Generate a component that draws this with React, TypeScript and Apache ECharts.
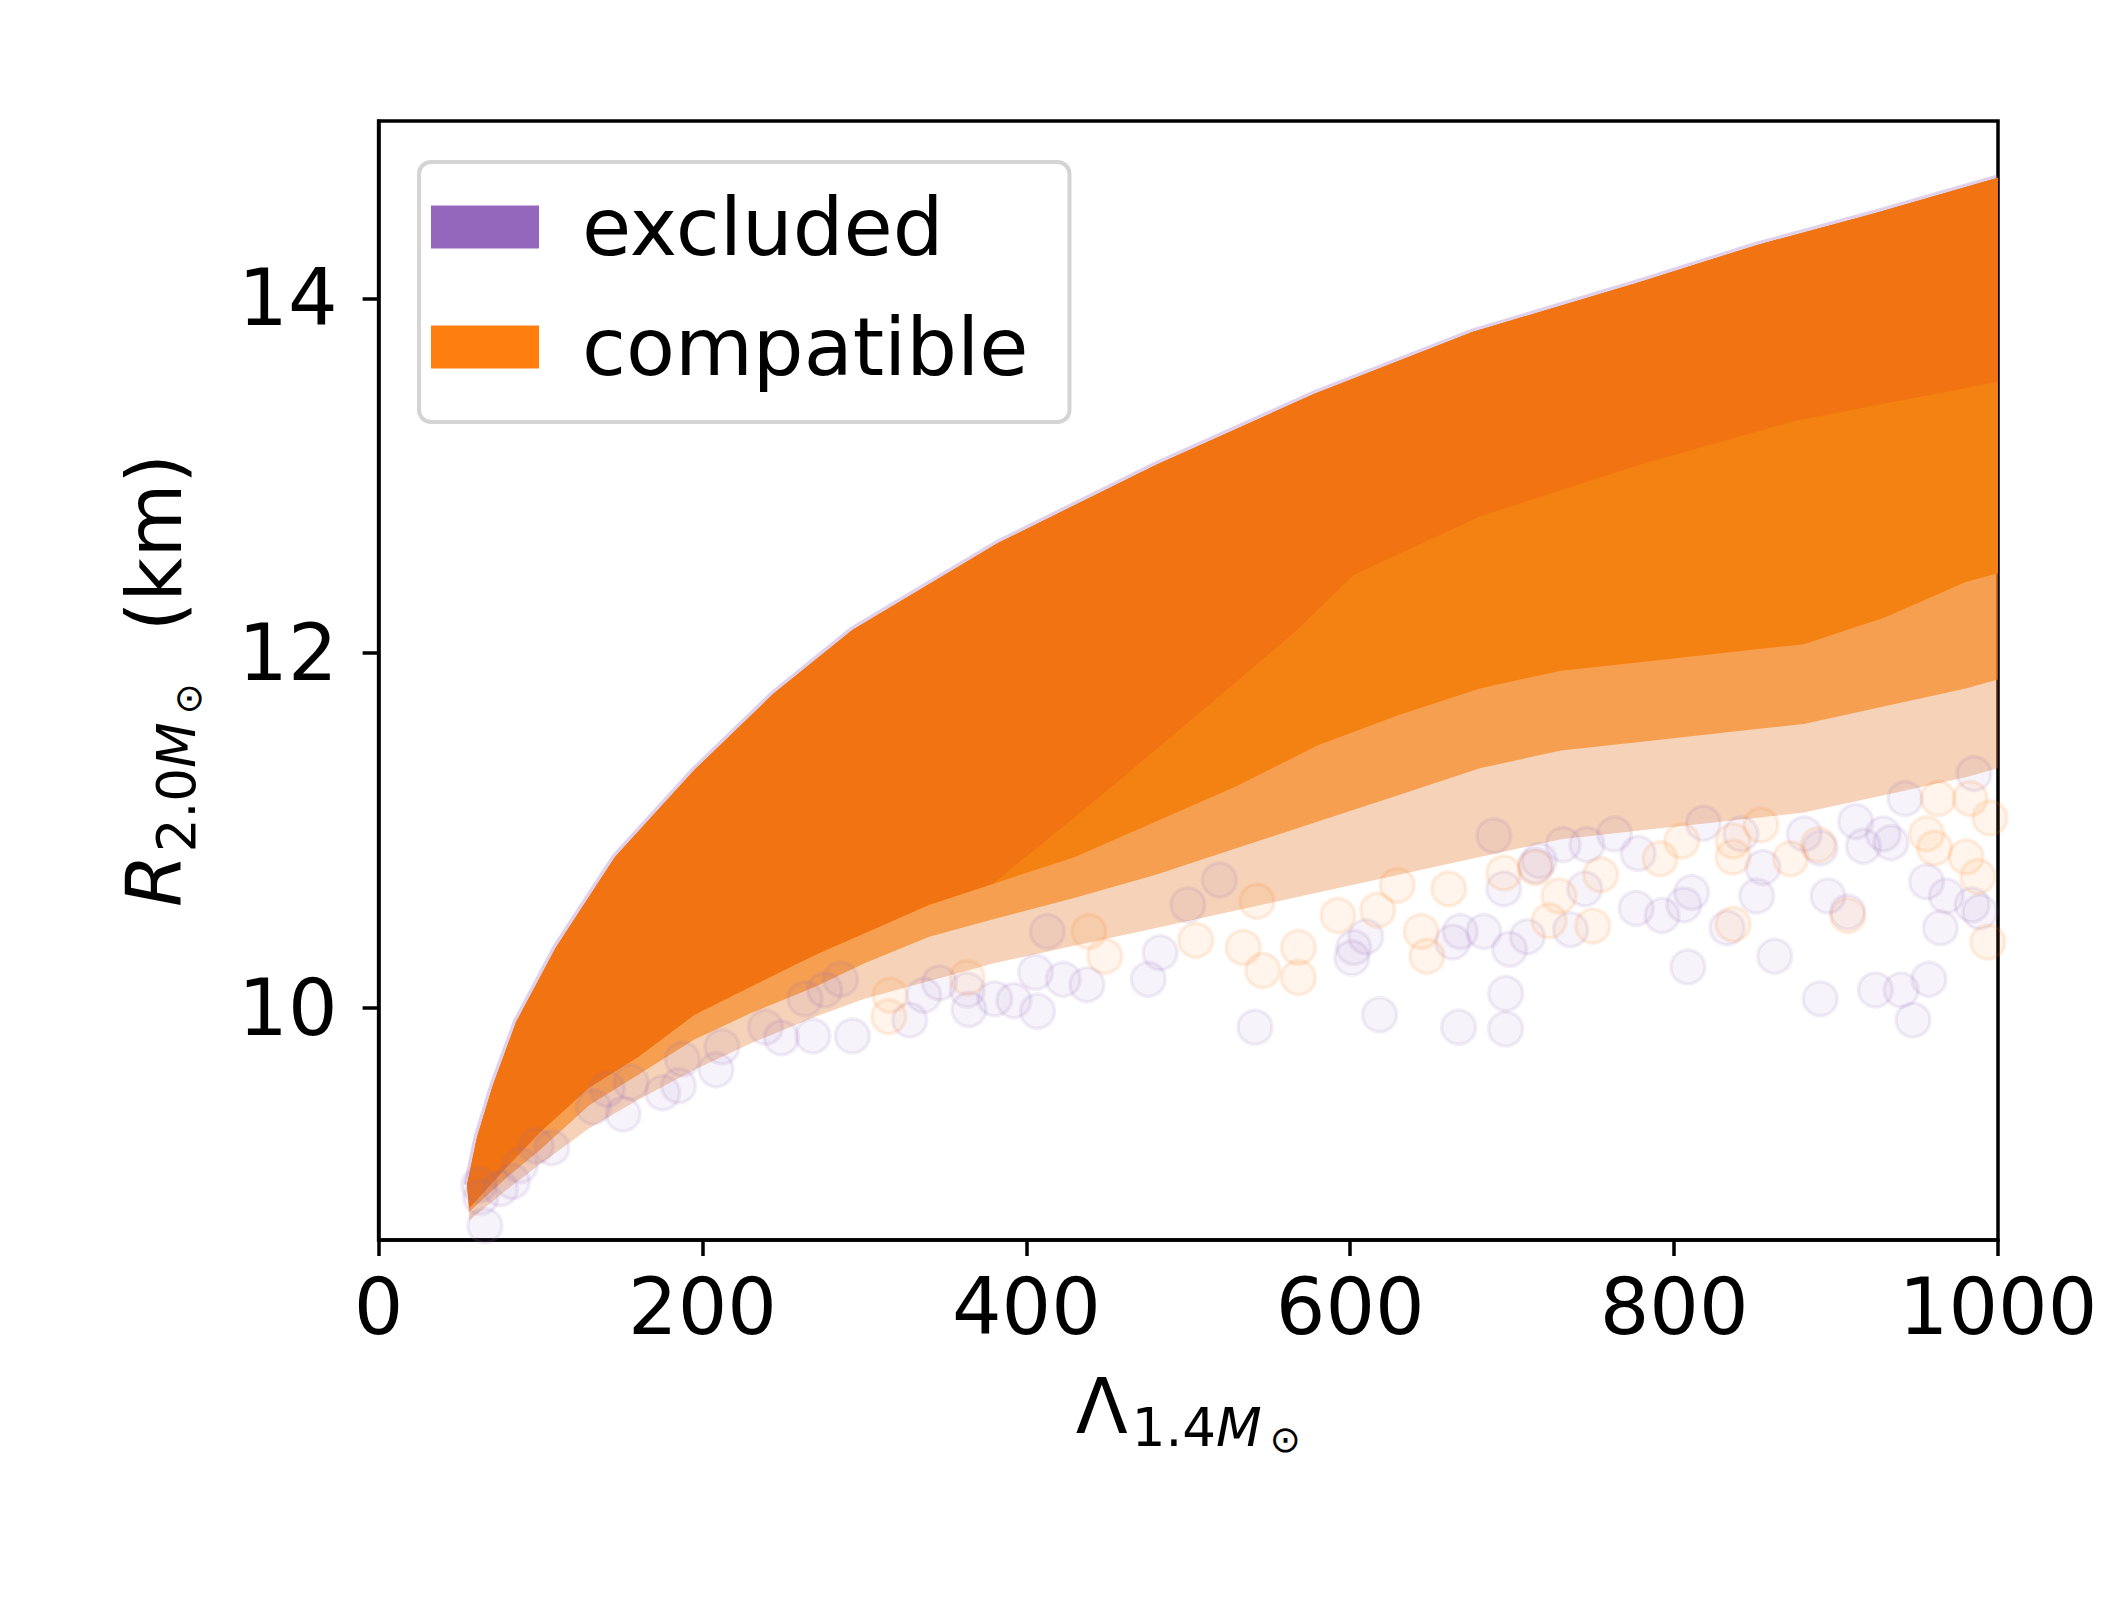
import React, { useEffect, useRef } from "react";
import * as echarts from "echarts";

// Axis ticks
const xTickValues = [0, 200, 400, 600, 800, 1000];
const yTickValues = [10, 12, 14];
const xRange = [0, 1000];
const yRange = [8.69, 15.0];

// Upper envelope of the dense cloud (Lambda_1.4, R_2.0)
const upperLambda = [54.6, 60.8, 70.5, 85, 109.5, 146, 195, 243.8, 292.6, 382.5, 480, 577.6, 675.5, 778, 851, 924, 1000];
const upperR = [9.0, 9.27, 9.56, 9.92, 10.34, 10.85, 11.34, 11.77, 12.13, 12.62, 13.06, 13.46, 13.81, 14.09, 14.3, 14.48, 14.68];

// Lower edge of the darkest core (right to left)
const coreLowerLambda = [1000, 875, 778, 680, 602, 566, 517, 444, 382];
const coreLowerR = [13.53, 13.31, 13.06, 12.77, 12.44, 12.12, 11.74, 11.18, 10.72];

// Lower edges of the solid cloud and of its hazy fringe
const edgeLambda = [56, 80, 100, 130, 160, 195, 230, 270, 300, 340, 380, 430, 480, 530, 580, 630, 680, 730, 780, 830, 880, 930, 980, 1000];
const solidLowerR = [8.87, 9.11, 9.3, 9.55, 9.72, 9.96, 10.12, 10.3, 10.42, 10.58, 10.7, 10.85, 11.05, 11.25, 11.48, 11.65, 11.8, 11.9, 11.95, 12.0, 12.05, 12.2, 12.4, 12.45];
const hazeMidR = [8.85, 9.05, 9.2, 9.45, 9.62, 9.82, 9.97, 10.12, 10.25, 10.4, 10.5, 10.62, 10.75, 10.9, 11.05, 11.2, 11.35, 11.45, 11.5, 11.55, 11.6, 11.7, 11.8, 11.85];
const hazeLowR = [8.8, 8.98, 9.12, 9.32, 9.48, 9.65, 9.8, 9.95, 10.05, 10.15, 10.25, 10.35, 10.45, 10.55, 10.65, 10.75, 10.85, 10.95, 11.0, 11.05, 11.1, 11.2, 11.3, 11.35];

// Sparse individual samples
const excludedPoints = [
  [364.6, 9.99], [363.5, 10.1], [328, 9.93], [336.6, 10.07], [292.6, 9.84], [268.2, 9.84], [248.7, 9.83],
  [208.4, 9.65], [185.2, 9.56], [175.4, 9.52], [151, 9.4], [132.7, 9.44], [107, 9.21], [82.6, 9.02],
  [75.3, 8.98], [65.6, 8.77], [63.1, 8.93], [61.9, 9.0], [275.5, 10.1], [285.3, 10.16], [263.3, 10.05],
  [212, 9.78], [187.6, 9.71], [238.9, 9.89], [346.3, 10.14], [380.5, 10.05], [141.2, 9.54], [155.9, 9.58],
  [97.3, 9.22], [87.5, 9.11],
  [541.2, 9.89], [618.1, 9.96], [666.9, 9.89], [406.9, 9.98], [392.3, 10.04], [437.4, 10.13], [475.3, 10.16],
  [422.8, 10.16], [405.7, 10.2], [601, 10.28], [602.2, 10.34], [663.3, 10.37], [609.6, 10.4], [482.6, 10.31],
  [413, 10.43], [499.7, 10.58], [519.2, 10.72], [668, 10.43],
  [696, 9.88], [696, 10.08], [808.5, 10.23], [862.1, 10.29], [890.2, 10.05], [924.3, 10.1], [940.2, 10.1],
  [957.3, 10.16], [947.5, 9.93], [698.4, 10.33], [682.5, 10.43], [709.4, 10.4], [736.1, 10.44], [744.8, 10.67],
  [694.8, 10.67], [714.3, 10.8], [776.6, 10.56], [792.6, 10.52], [806, 10.58], [810.8, 10.65], [832.7, 10.45],
  [851, 10.63], [895, 10.63], [907.2, 10.54], [964.4, 10.45], [955.9, 10.71], [968.1, 10.63], [984, 10.58],
  [988.8, 10.54], [933.9, 10.93], [916.9, 10.91], [890.2, 10.9], [854.8, 10.79], [777.8, 10.87], [763.2, 10.98],
  [746.2, 10.92], [731.5, 10.92], [716.7, 10.83], [688.7, 10.97], [818.1, 11.04], [841.3, 10.98], [880.4, 10.98],
  [912.1, 11.05], [929.1, 10.98], [942.6, 11.18], [985.2, 11.32]
];
const compatiblePoints = [
  [315.8, 10.07], [363.5, 10.17], [315, 9.95],
  [546, 10.21], [568, 10.17], [533.9, 10.34], [647.4, 10.29], [643.8, 10.43], [616.9, 10.55], [592.4, 10.52],
  [568, 10.34], [542.4, 10.6], [504.6, 10.38], [448.4, 10.29], [438.6, 10.43], [629, 10.69], [660.8, 10.67],
  [749.7, 10.46], [722.8, 10.49], [728.9, 10.63], [754.6, 10.75], [836.4, 10.47], [907.2, 10.52], [993.7, 10.37],
  [987.6, 10.74], [980.3, 10.85], [960.8, 10.9], [955.9, 10.98], [889, 10.92], [871.9, 10.84], [836.4, 10.85],
  [853.6, 11.03], [836.4, 10.94], [804.7, 10.94], [791.3, 10.84], [714.3, 10.79], [694.8, 10.76], [995, 11.07],
  [963.1, 11.18], [982.8, 11.18]
];

const FONT = "DejaVu Sans";

function zip(xs: number[], ys: number[]) {
  return xs.map((x, i) => [x, ys[i]]);
}

function areaSeries(name: string, pts: number[][], style: any) {
  return {
    type: "custom",
    name,
    coordinateSystem: "cartesian2d",
    silent: true,
    clip: true,
    data: [pts[0]],
    encode: { x: 0, y: 1 },
    renderItem: (_p: any, api: any) => ({
      type: "polygon",
      shape: { points: pts.map((p) => api.coord(p)) },
      style,
    }),
  };
}

export default function App() {
  const ref = useRef<HTMLDivElement>(null);
  useEffect(() => {
    document.body.style.margin = "0";
    const chart = echarts.init(ref.current!, null, { renderer: "svg" });

    const upper = zip(upperLambda, upperR);
    const solidLower = zip(edgeLambda, solidLowerR);
    const hazeMid = zip(edgeLambda, hazeMidR);
    const hazeLow = zip(edgeLambda, hazeLowR);
    const coreLower = zip(coreLowerLambda, coreLowerR);
    const solidLeft = solidLower.filter((p) => p[0] < 382);

    const cloudPts = upper.concat(hazeLow.slice().reverse());
    const hazeMidPts = upper.concat(hazeMid.slice().reverse());
    const solidPts = upper.concat(solidLower.slice().reverse());
    const corePts = upper.concat(coreLower, solidLeft.slice().reverse());

    const scatterBase = {
      type: "scatter",
      symbol: "circle",
      symbolSize: 34,
      silent: true,
      emphasis: { disabled: true },
    };

    const option: any = {
      animation: false,
      backgroundColor: "#ffffff",
      grid: {
        left: 378.6,
        right: 114,
        top: 121,
        bottom: 373,
        show: true,
        borderColor: "#000",
        borderWidth: 3.5,
        backgroundColor: "transparent",
      },
      legend: {
        orient: "vertical",
        left: 419,
        top: 162,
        selectedMode: false,
        icon: "rect",
        itemWidth: 108,
        itemHeight: 43,
        itemGap: 40,
        padding: [25, 41, 35, 12],
        backgroundColor: "rgba(255,255,255,0.8)",
        borderColor: "#d4d4d4",
        borderWidth: 4,
        borderRadius: 12,
        textStyle: { fontSize: 80, fontFamily: FONT, color: "#000", lineHeight: 80, padding: [0, 0, 0, 38] },
        data: [
          { name: "excluded", itemStyle: { color: "#9467bd", opacity: 1, borderWidth: 0 } },
          { name: "compatible", itemStyle: { color: "#ff7f0e", opacity: 1, borderWidth: 0 } },
        ],
      },
      xAxis: {
        type: "value",
        min: xRange[0],
        max: xRange[1],
        interval: 200,
        splitLine: { show: false },
        axisLine: { show: true, lineStyle: { color: "#000", width: 3.5 } },
        axisTick: { show: true, length: 16, lineStyle: { color: "#000", width: 3.5 }, customValues: xTickValues },
        axisLabel: {
          fontSize: 78,
          fontFamily: FONT,
          color: "#000",
          margin: 28,
          customValues: xTickValues,
          formatter: (v: number) => String(v),
        },
        name: "{L|Λ}{s|1.4}{m|M}{o|⊙}",
        nameLocation: "middle",
        nameGap: 138,
        nameTextStyle: {
          fontFamily: FONT,
          color: "#000",
          rich: {
            L: { fontSize: 76, fontFamily: FONT, color: "#000", verticalAlign: "bottom", lineHeight: 80, padding: [0, 0, 14, 0] },
            s: { fontSize: 53, fontFamily: FONT, color: "#000", verticalAlign: "bottom", lineHeight: 56, padding: [0, 0, 4, 4] },
            m: { fontSize: 53, fontFamily: FONT, fontStyle: "italic", color: "#000", verticalAlign: "bottom", lineHeight: 56, padding: [0, 0, 4, 0] },
            o: { fontSize: 37, fontFamily: FONT, color: "#000", verticalAlign: "bottom", lineHeight: 40, padding: [0, 0, 0, 8] },
          },
        },
      },
      yAxis: {
        type: "value",
        min: yRange[0],
        max: yRange[1],
        splitLine: { show: false },
        axisLine: { show: true, lineStyle: { color: "#000", width: 3.5 } },
        axisTick: { show: true, length: 16, lineStyle: { color: "#000", width: 3.5 }, customValues: yTickValues },
        axisLabel: { fontSize: 78, fontFamily: FONT, color: "#000", margin: 41, customValues: yTickValues },
        name: "{R|R}{s|2.0}{m|M}{o|⊙}{k|(km)}",
        nameLocation: "middle",
        nameRotate: 90,
        nameGap: 172,
        nameTextStyle: {
          fontFamily: FONT,
          color: "#000",
          rich: {
            R: { fontSize: 76, fontFamily: FONT, fontStyle: "italic", color: "#000", verticalAlign: "bottom", lineHeight: 80, padding: [0, 0, 14, 0] },
            s: { fontSize: 53, fontFamily: FONT, color: "#000", verticalAlign: "bottom", lineHeight: 56, padding: [0, 0, 4, 2] },
            m: { fontSize: 53, fontFamily: FONT, fontStyle: "italic", color: "#000", verticalAlign: "bottom", lineHeight: 56, padding: [0, 0, 4, 0] },
            o: { fontSize: 37, fontFamily: FONT, color: "#000", verticalAlign: "bottom", lineHeight: 40, padding: [0, 0, 0, 8] },
            k: { fontSize: 76, fontFamily: FONT, color: "#000", verticalAlign: "bottom", lineHeight: 80, padding: [0, 0, 14, 52] },
          },
        },
      },
      series: [
        areaSeries("excluded", cloudPts, { fill: "rgba(148,103,189,0.08)" }),
        {
          type: "custom",
          name: "excluded",
          coordinateSystem: "cartesian2d",
          silent: true,
          clip: true,
          data: [upper[0]],
          encode: { x: 0, y: 1 },
          renderItem: (_p: any, api: any) => ({
            type: "polyline",
            shape: { points: upper.map((p) => api.coord(p)) },
            style: { stroke: "rgba(148,103,189,0.3)", lineWidth: 7, fill: "none" },
          }),
        },
        {
          ...scatterBase,
          name: "excluded",
          data: excludedPoints,
          itemStyle: { color: "rgba(148,103,189,0.1)", borderColor: "rgba(148,103,189,0.15)", borderWidth: 3.5 },
        },
        areaSeries("compatible", cloudPts, { fill: "rgba(246,128,16,0.28)" }),
        areaSeries("compatible", hazeMidPts, { fill: "rgba(245,128,16,0.62)" }),
        areaSeries("compatible", solidPts, { fill: "#f48212" }),
        areaSeries("compatible", corePts, { fill: "#f17311" }),
        {
          ...scatterBase,
          name: "compatible",
          data: compatiblePoints,
          itemStyle: { color: "rgba(255,127,14,0.1)", borderColor: "rgba(255,127,14,0.15)", borderWidth: 3.5 },
        },
      ],
    };
    chart.setOption(option);
    return () => chart.dispose();
  }, []);
  return <div ref={ref} style={{ width: 2112, height: 1613 }} />;
}
